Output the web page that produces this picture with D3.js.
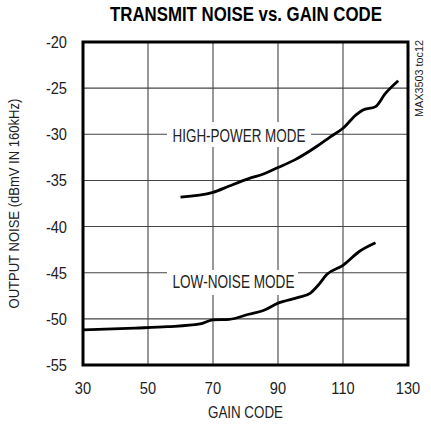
<!DOCTYPE html>
<html>
<head>
<meta charset="utf-8">
<script src="https://cdn.jsdelivr.net/npm/d3@7"></script>
<style>
  body { margin: 0; background: #fff; }
  text { font-family: "Liberation Sans Narrow", "Arial Narrow", "Liberation Sans", sans-serif; fill: #222; }
</style>
</head>
<body>
<div id="chart"></div>
<script>
const xTicks = [30, 50, 70, 90, 110, 130];
const yTicks = [-20, -25, -30, -35, -40, -45, -50, -55];

// high-power mode curve
const hpCode = [60, 70, 75, 81, 85.5, 90, 95, 102, 106, 110, 114, 116, 120, 123, 127];
const hpNoise = [-36.8, -36.3, -35.6, -34.8, -34.3, -33.6, -32.8, -31.3, -30.3, -29.35, -27.9, -27.4, -27.0, -25.6, -24.2];

// low-noise mode curve
const lnCode = [30, 46, 56, 66, 70, 75, 81, 85.5, 90, 96, 100, 102.5, 105, 110, 115, 120];
const lnNoise = [-51.2, -51.0, -50.85, -50.55, -50.1, -50.05, -49.5, -49.1, -48.3, -47.7, -47.2, -46.3, -45.2, -44.2, -42.7, -41.75];

const width = 431, height = 428;
const plotLeft = 83, plotRight = 408, plotTop = 42, plotBottom = 365;
const narrow = 0.86; // squeeze for the condensed face

const svg = d3.select('#chart').append('svg')
    .attr('width', width)
    .attr('height', height);

const x = d3.scaleLinear().domain([30, 130]).range([plotLeft, plotRight]);
const y = d3.scaleLinear().domain([-55, -20]).range([plotBottom, plotTop]);

// squeeze a text horizontally so it spans w pixels (start-anchored at px, py)
function fitText(sel, px, py, w, rot) {
    sel.each(function() {
        const len = this.getComputedTextLength();
        const s = w / len;
        const r = rot ? ` rotate(${rot})` : '';
        d3.select(this).attr('transform', `translate(${px}, ${py})${r} scale(${s}, 1)`);
    });
}

// grid
svg.append('g')
    .selectAll('line')
    .data(xTicks.slice(1, -1))
    .join('line')
    .attr('x1', d => x(d)).attr('x2', d => x(d))
    .attr('y1', plotTop).attr('y2', plotBottom)
    .attr('stroke', '#444').attr('stroke-width', 1.1);

svg.append('g')
    .selectAll('line')
    .data(yTicks.slice(1, -1))
    .join('line')
    .attr('x1', plotLeft).attr('x2', plotRight)
    .attr('y1', d => y(d)).attr('y2', d => y(d))
    .attr('stroke', '#444').attr('stroke-width', 1.1);

// curve label boxes hide the grid behind them
const labels = [
    { text: 'HIGH-POWER MODE', x: 172.5, y: 141.8, len: 133, box: [167, 122, 144, 25] },
    { text: 'LOW-NOISE MODE', x: 172.5, y: 287.8, len: 122, box: [167, 270, 131, 25] }
];

svg.append('g')
    .selectAll('rect')
    .data(labels)
    .join('rect')
    .attr('x', d => d.box[0]).attr('y', d => d.box[1])
    .attr('width', d => d.box[2]).attr('height', d => d.box[3])
    .attr('fill', '#fff');

svg.append('g')
    .selectAll('text')
    .data(labels)
    .join('text')
    .attr('font-size', 17.5)
    .text(d => d.text)
    .each(function(d) { fitText(d3.select(this), d.x, d.y, d.len); });

// curves
const line = d3.line()
    .x(d => x(d[0]))
    .y(d => y(d[1]))
    .curve(d3.curveMonotoneX);

svg.append('path')
    .datum(d3.zip(hpCode, hpNoise))
    .attr('d', line)
    .attr('fill', 'none')
    .attr('stroke', '#000')
    .attr('stroke-width', 2.8);

svg.append('path')
    .datum(d3.zip(lnCode, lnNoise))
    .attr('d', line)
    .attr('fill', 'none')
    .attr('stroke', '#000')
    .attr('stroke-width', 2.8);

// frame
svg.append('rect')
    .attr('x', plotLeft).attr('y', plotTop)
    .attr('width', plotRight - plotLeft).attr('height', plotBottom - plotTop)
    .attr('fill', 'none')
    .attr('stroke', '#000')
    .attr('stroke-width', 3);

// axes labels
svg.append('g')
    .selectAll('text')
    .data(yTicks)
    .join('text')
    .attr('transform', d => `translate(67, ${y(d) + 6}) scale(${narrow}, 1)`)
    .attr('text-anchor', 'end')
    .attr('font-size', 17)
    .text(d => d);

svg.append('g')
    .selectAll('text')
    .data(xTicks)
    .join('text')
    .attr('transform', d => `translate(${x(d)}, 394) scale(${narrow}, 1)`)
    .attr('text-anchor', 'middle')
    .attr('font-size', 17)
    .text(d => d);

svg.append('text')
    .attr('font-size', 17)
    .text('GAIN CODE')
    .call(fitText, (plotLeft + plotRight) / 2 - 37.5, 418, 75);

svg.append('text')
    .attr('font-size', 15.5)
    .text('OUTPUT NOISE (dBmV IN 160kHz)')
    .call(fitText, 19, (plotTop + plotBottom) / 2 + 105, 210, -90);

svg.append('text')
    .attr('font-size', 19.5)
    .attr('font-weight', 'bold')
    .style('fill', '#000')
    .text('TRANSMIT NOISE vs. GAIN CODE')
    .call(fitText, 110, 21, 272);

svg.append('text')
    .attr('font-size', 10.5)
    .text('MAX3503 toc12')
    .call(fitText, 423, 117, 77, -90);
</script>
</body>
</html>
